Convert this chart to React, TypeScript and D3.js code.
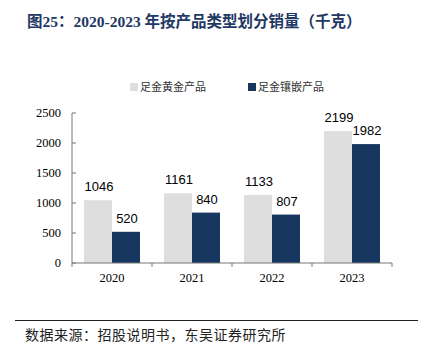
import React from "react";
import * as d3 from "d3";

const categories = ["2020", "2021", "2022", "2023"];
const seriesNames = ["足金黄金产品", "足金镶嵌产品"];
const goldValues = [1046, 1161, 1133, 2199];
const inlayValues = [520, 840, 807, 1982];
const yTicks = [0, 500, 1000, 1500, 2000, 2500];

const W = 437, H = 355;
const colors = ["#dedede", "#17375e"];
const serif = "'Liberation Serif', 'Times New Roman', 'Noto Sans CJK SC', serif";
const cjk = "'Noto Sans CJK SC', sans-serif";

export default function App() {
  const x = d3.scaleBand<string>().domain(categories).range([72, 392]).paddingInner(0.3).paddingOuter(0.15);
  const inner = d3.scaleBand<string>().domain(["0", "1"]).range([0, x.bandwidth()]);
  const y = d3.scaleLinear().domain([0, 2500]).range([263, 113]);
  const series = [goldValues, inlayValues];
  return (
    <svg width={W} height={H} style={{ position: "absolute", left: 0, top: 0, background: "#fff" }}>
      <text x={27} y={27} fontFamily={serif} fontWeight="bold" fontSize={15.5} fill="#1f3864">
        图25：2020-2023 年按产品类型划分销量（千克）
      </text>
      {seriesNames.map((n, i) => (
        <g key={n} transform={`translate(${[130, 248][i]},83)`}>
          <rect x={0} y={0} width={8} height={8} fill={colors[i]} />
          <text x={10} y={8} fontFamily={cjk} fontSize={11} fill="#333">{n}</text>
        </g>
      ))}
      {series.map((vals, si) =>
        vals.map((v, ci) => {
          const bx = (x(categories[ci]) ?? 0) + (inner(String(si)) ?? 0);
          return (
            <g key={`${si}-${ci}`}>
              <rect x={bx} y={y(v)} width={inner.bandwidth()} height={263 - y(v)} fill={colors[si]} />
              <text x={bx + inner.bandwidth() / 2 + 1} y={y(v) - 9} textAnchor="middle" fontFamily="'Liberation Sans', Arial, sans-serif" fontSize={13} fill="#000">{v}</text>
            </g>
          );
        })
      )}
      <line x1={72} x2={72} y1={113} y2={263} stroke="#777" />
      {yTicks.map((t) => (
        <g key={t}>
          <line x1={72} x2={76} y1={y(t)} y2={y(t)} stroke="#777" />
          <text x={61} y={y(t) + 4} textAnchor="end" fontFamily={serif} fontSize={12.5} fill="#000">{t}</text>
        </g>
      ))}
      <line x1={72} x2={392} y1={263} y2={263} stroke="#777" />
      {[...categories.map((c) => x(c)! - x.step() * x.paddingInner() / 2), 392].map((tx, i) => (
        <line key={i} x1={tx} x2={tx} y1={263} y2={267} stroke="#777" />
      ))}
      {categories.map((c) => (
        <text key={c} x={x(c)! + x.bandwidth() / 2} y={282} textAnchor="middle" fontFamily={serif} fontSize={12.5} fill="#000">{c}</text>
      ))}
      <line x1={15} x2={418} y1={320.5} y2={320.5} stroke="#222" strokeWidth={1} />
      <text x={25} y={340} fontFamily={cjk} fontSize={14} letterSpacing={0.5} fill="#222">数据来源：招股说明书，东吴证券研究所</text>
    </svg>
  );
}
